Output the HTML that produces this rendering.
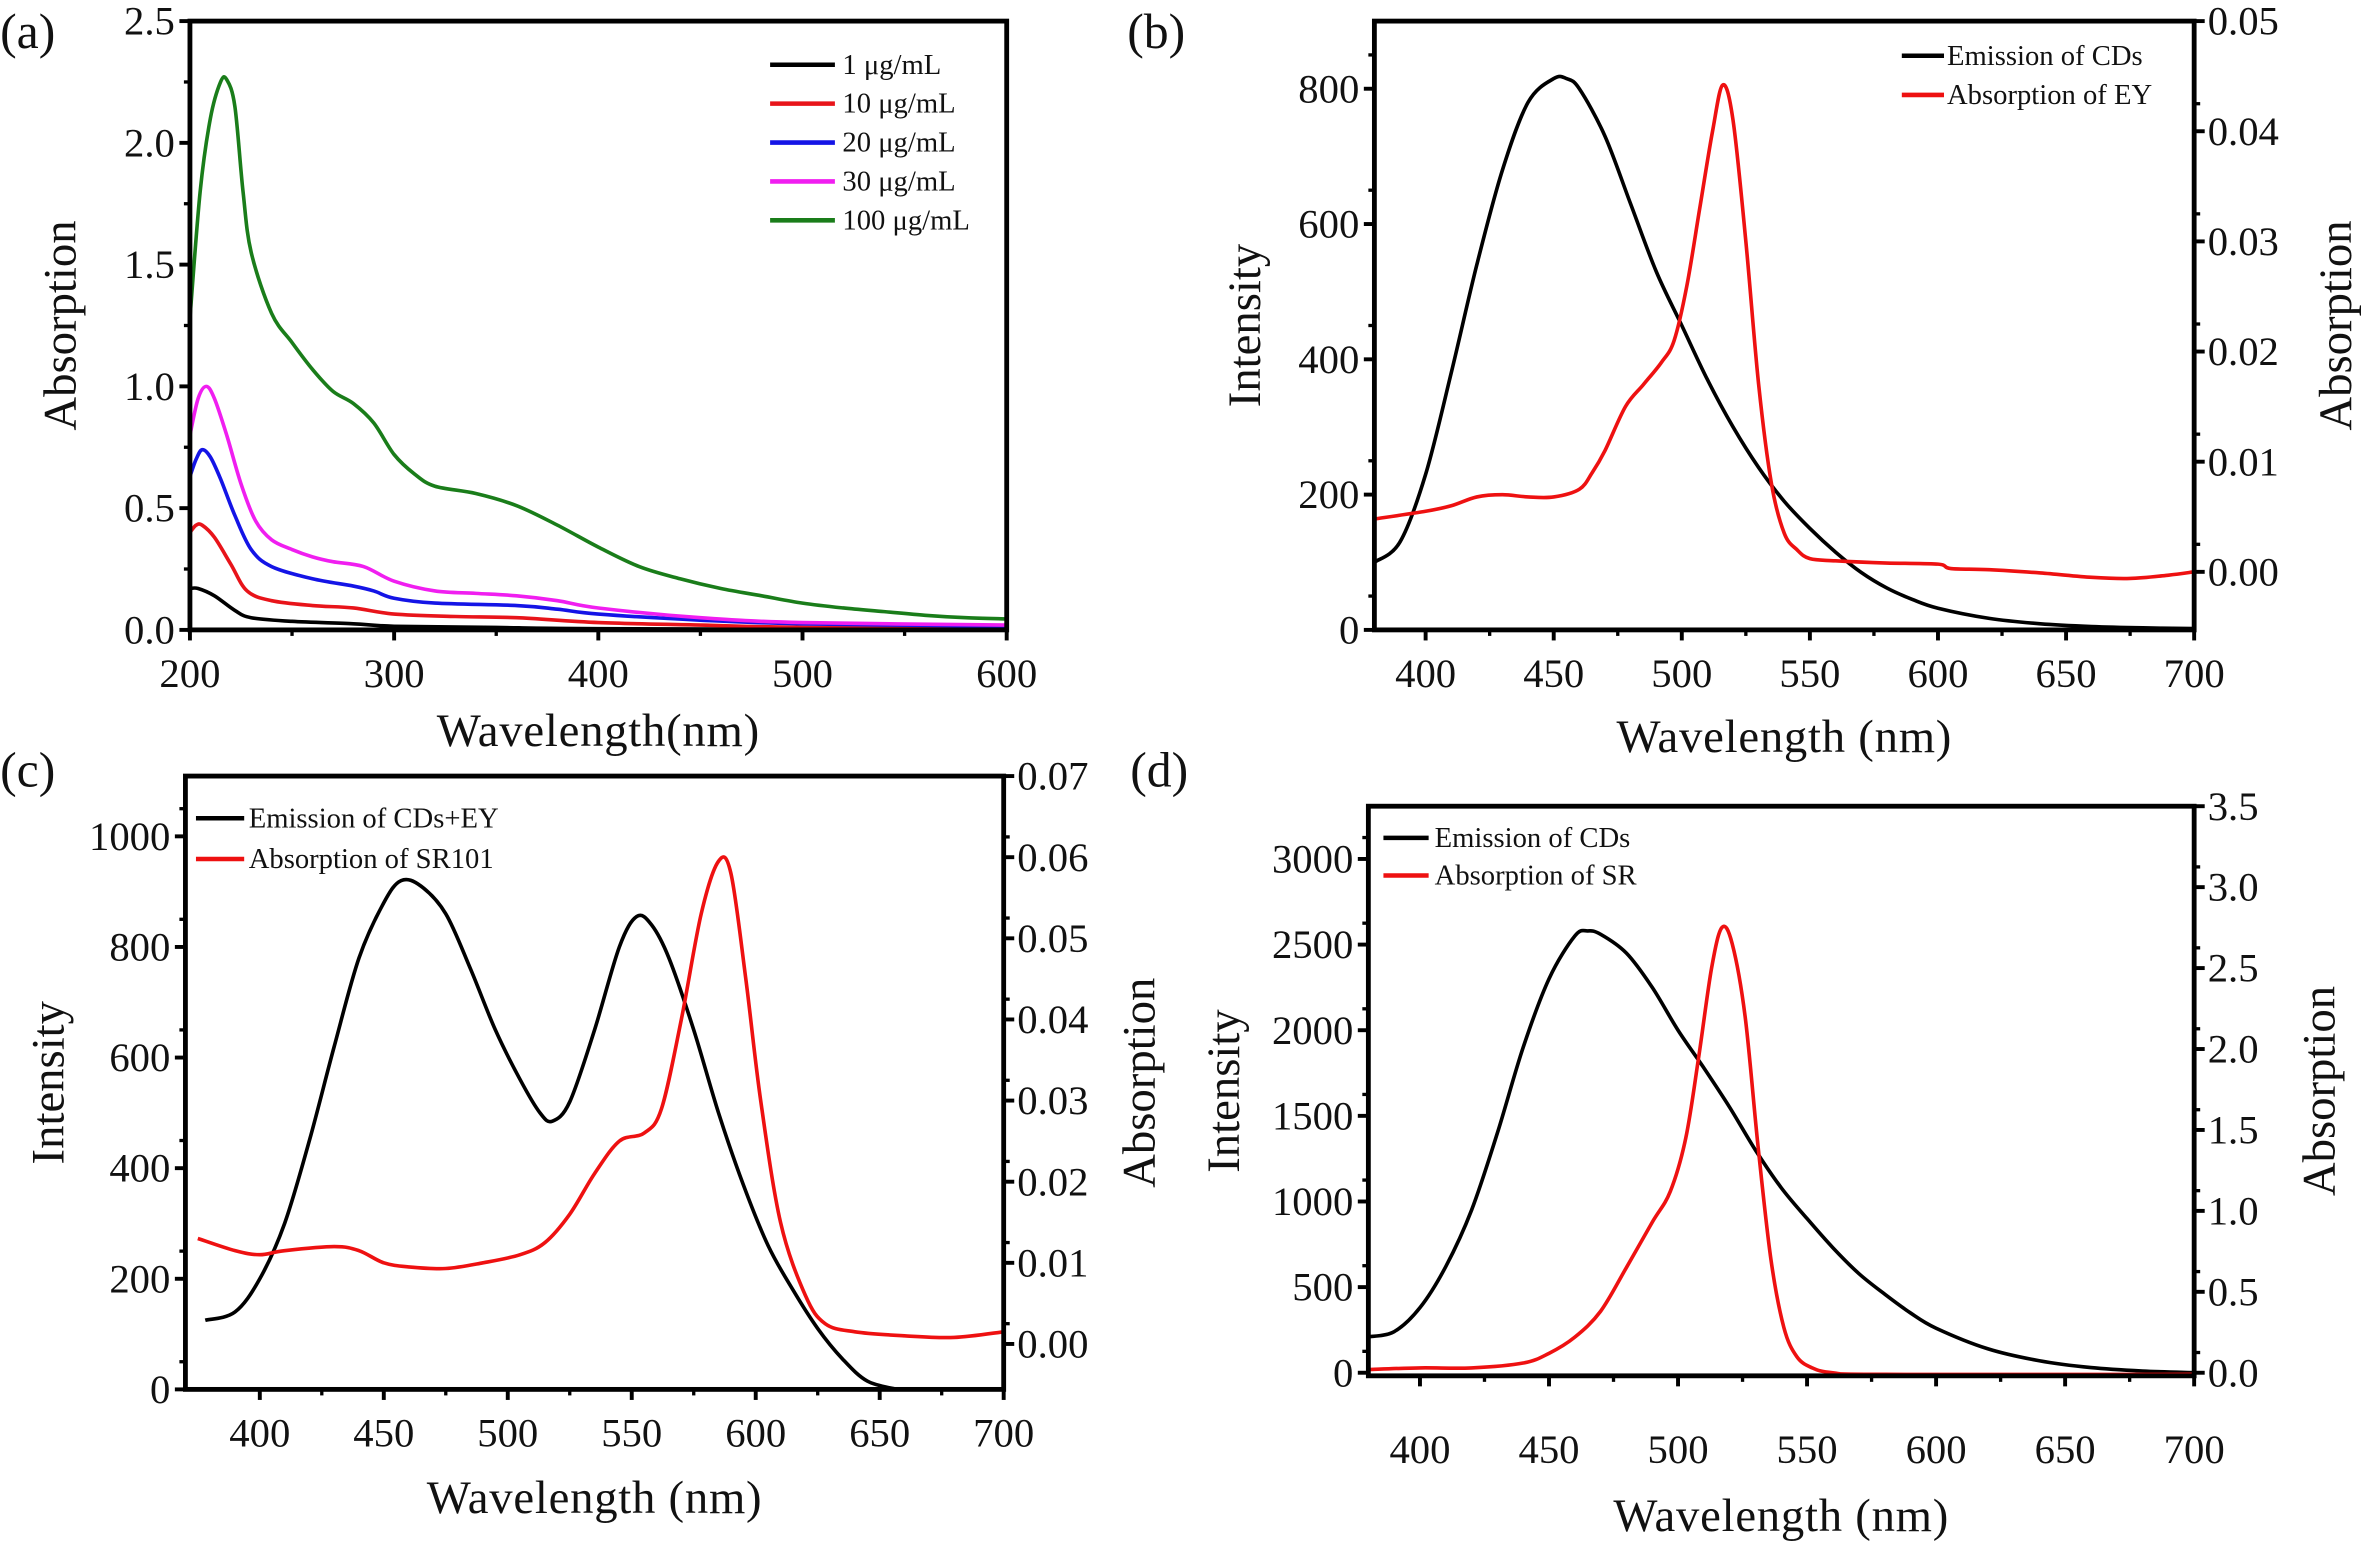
<!DOCTYPE html>
<html><head><meta charset="utf-8"><style>
html,body{margin:0;padding:0;background:#fff;}
svg{display:block;}
text{font-family:"Liberation Serif",serif;fill:#111;}
</style></head><body>
<svg id="fig" xmlns="http://www.w3.org/2000/svg" width="2363" height="1544" viewBox="0 0 1568 1024.6"></svg>
<script>
// ---------- Panel (a) data ----------
const aX_g=[200,205,210,215,218,222,226,230,240,250,260,270,280,290,300,310,320,340,360,380,400,420,440,460,480,500,520,540,560,580,600];
const aY_g=[1.28,1.8,2.1,2.25,2.26,2.15,1.8,1.55,1.3,1.18,1.07,0.98,0.93,0.85,0.72,0.64,0.59,0.56,0.51,0.43,0.34,0.26,0.21,0.17,0.14,0.11,0.09,0.075,0.06,0.05,0.045];
const aX_m=[200,204,208,212,218,225,232,240,250,260,270,285,300,320,340,360,380,400,450,500,600];
const aY_m=[0.8,0.95,1.0,0.95,0.8,0.6,0.45,0.37,0.33,0.3,0.28,0.26,0.2,0.16,0.15,0.14,0.12,0.09,0.05,0.03,0.02];
const aX_b=[200,203,206,210,215,222,230,240,260,280,290,300,320,360,380,400,450,500,600];
const aY_b=[0.63,0.7,0.74,0.71,0.62,0.47,0.33,0.26,0.21,0.18,0.16,0.13,0.11,0.1,0.085,0.065,0.04,0.025,0.015];
const aX_r=[200,203,206,212,220,228,240,260,280,300,330,360,400,450,500,600];
const aY_r=[0.4,0.43,0.43,0.38,0.27,0.16,0.12,0.1,0.09,0.065,0.055,0.05,0.03,0.02,0.01,0.005];
const aX_k=[200,204,212,222,230,250,280,300,350,400,600];
const aY_k=[0.17,0.17,0.14,0.08,0.05,0.035,0.025,0.015,0.01,0.005,0.0];
const aXticks=[200,300,400,500,600];
const aYticks=[0.0,0.5,1.0,1.5,2.0,2.5];
const aLegend=["1 μg/mL","10 μg/mL","20 μg/mL","30 μg/mL","100 μg/mL"];
// ---------- Panel (b) data ----------
const bX_em=[380,390,400,410,420,430,440,450,455,460,470,480,490,500,510,520,530,540,550,560,570,580,590,600,620,640,660,680,700];
const bY_em=[100,130,230,380,540,680,780,815,815,800,730,630,530,450,370,300,240,190,150,115,85,62,45,32,17,9,5,3,2];
const bX_ab=[380,400,410,420,430,440,450,460,465,470,478,485,492,497,502,507,512,516,520,525,530,535,540,545,550,560,580,600,605,620,640,660,675,690,700];
const bY_ab=[0.0048,0.0055,0.006,0.0068,0.007,0.0068,0.0068,0.0075,0.009,0.011,0.015,0.017,0.019,0.021,0.026,0.033,0.04,0.0442,0.041,0.03,0.017,0.008,0.0035,0.002,0.0012,0.001,0.0008,0.0007,0.0003,0.0002,-0.0001,-0.0005,-0.0006,-0.0003,0.0];
const bXticks=[400,450,500,550,600,650,700];
const bYticks=[0,200,400,600,800];
const bY2ticks=[0.00,0.01,0.02,0.03,0.04,0.05];
// ---------- Panel (c) data ----------
const cX_em=[378,390,400,410,420,430,440,450,457,465,475,485,495,505,513,518,525,535,545,552,558,565,575,585,595,605,615,625,635,645,657];
const cY_em=[125,140,200,300,450,620,780,880,920,910,860,760,650,560,500,485,520,650,800,855,840,780,650,500,370,260,180,110,55,15,0];
const cX_ab=[375,390,400,410,430,440,450,460,475,490,505,515,525,535,545,555,562,570,578,585,590,596,602,610,620,628,640,660,680,700];
const cY_ab=[0.013,0.0115,0.011,0.0115,0.012,0.0115,0.01,0.0095,0.0093,0.01,0.011,0.0125,0.016,0.021,0.025,0.026,0.029,0.04,0.053,0.0595,0.058,0.045,0.03,0.015,0.006,0.0025,0.0015,0.001,0.0008,0.0015];
const cXticks=[400,450,500,550,600,650,700];
const cYticks=[0,200,400,600,800,1000];
const cY2ticks=[0.00,0.01,0.02,0.03,0.04,0.05,0.06,0.07];
// ---------- Panel (d) data ----------
const dX_em=[380,390,400,410,420,430,440,450,460,465,470,480,490,500,510,520,530,540,550,560,570,580,590,600,620,640,660,680,700];
const dY_em=[210,240,380,620,950,1400,1900,2300,2550,2580,2560,2450,2250,2000,1780,1550,1300,1080,900,730,580,460,350,260,140,70,30,10,0];
const dX_ab=[380,400,420,440,450,460,470,480,490,497,503,508,513,517,521,526,531,536,541,546,552,560,580,700];
const dY_ab=[0.02,0.03,0.03,0.06,0.12,0.22,0.38,0.65,0.93,1.12,1.45,1.95,2.5,2.75,2.65,2.2,1.4,0.7,0.28,0.1,0.03,0.0,-0.01,-0.01];
const dXticks=[400,450,500,550,600,650,700];
const dYticks=[0,500,1000,1500,2000,2500,3000];
const dY2ticks=[0.0,0.5,1.0,1.5,2.0,2.5,3.0,3.5];

const NS="http://www.w3.org/2000/svg";
const svg=document.getElementById('fig');
function el(tag,attrs,parent,txt){const e=document.createElementNS(NS,tag);for(const k in attrs)e.setAttribute(k,attrs[k]);if(txt!==undefined)e.textContent=txt;(parent||svg).appendChild(e);return e;}
function lin(d0,d1,r0,r1){return v=>r0+(v-d0)/(d1-d0)*(r1-r0);}
function smoothPath(xs,ys,sx,sy){
  const p=xs.map((x,i)=>[sx(x),sy(ys[i])]);
  let d='M'+p[0][0].toFixed(2)+','+p[0][1].toFixed(2);
  for(let i=0;i<p.length-1;i++){
    const p0=p[i-1]||p[i],p1=p[i],p2=p[i+1],p3=p[i+2]||p2;
    const c1=[p1[0]+(p2[0]-p0[0])/6,p1[1]+(p2[1]-p0[1])/6];
    const c2=[p2[0]-(p3[0]-p1[0])/6,p2[1]-(p3[1]-p1[1])/6];
    d+=' C'+c1[0].toFixed(2)+','+c1[1].toFixed(2)+' '+c2[0].toFixed(2)+','+c2[1].toFixed(2)+' '+p2[0].toFixed(2)+','+p2[1].toFixed(2);
  }
  return d;
}
function fmt(v,dec){return v.toFixed(dec);}

function panel(cfg){
  const g=el('g',{});
  
  
  const sx=lin(cfg.xd[0],cfg.xd[1],cfg.L,cfg.R);
  const sy=lin(cfg.yd[0],cfg.yd[1],cfg.B,cfg.T);
  const sy2=cfg.y2d?lin(cfg.y2d[0],cfg.y2d[1],cfg.B,cfg.T):null;
  cfg.series.forEach(s=>{
    const p=el('path',{d:smoothPath(s.x,s.y,sx,s.right?sy2:sy),fill:'none',stroke:s.color,'stroke-width':2.4,'stroke-linejoin':'round'},g);
    
    
  });
  const fr=el('rect',{x:cfg.L,y:cfg.T,width:cfg.R-cfg.L,height:cfg.B-cfg.T,fill:'none',stroke:'#000','stroke-width':3.2},g);
  
  
  const xa=el('g',{},g);
  
  
  cfg.xt.forEach((v,i)=>{
    const x=sx(v);
    el('line',{x1:x,y1:cfg.B,x2:x,y2:cfg.B+7,stroke:'#000','stroke-width':2.6},xa);
    if(i<cfg.xt.length-1){const xm=sx(v+cfg.xstep/2);el('line',{x1:xm,y1:cfg.B,x2:xm,y2:cfg.B+4,stroke:'#000','stroke-width':2.2},xa);}
    const t=el('text',{x:x,y:cfg.B+cfg.xlabOff,'font-size':27,'text-anchor':'middle'},xa,String(v));
    
    
  });
  const xt=el('text',{x:(cfg.L+cfg.R)/2,y:cfg.xTitleY,'font-size':31,'text-anchor':'middle','letter-spacing':'0.5'},g,cfg.xTitle);
  
  
  const ya=el('g',{},g);
  
  
  cfg.yt.forEach((v,i)=>{
    const y=sy(v);
    el('line',{x1:cfg.L,y1:y,x2:cfg.L-7,y2:y,stroke:'#000','stroke-width':2.6},ya);
    const ym=sy(v+cfg.ystep/2);
    if(ym>cfg.T+2) el('line',{x1:cfg.L,y1:ym,x2:cfg.L-4,y2:ym,stroke:'#000','stroke-width':2.2},ya);
    const t=el('text',{x:cfg.L-10,y:y+9,'font-size':27,'text-anchor':'end'},ya,fmt(v,cfg.ydec));
    
    
  });
  const yt=el('text',{x:cfg.yTitleX,y:(cfg.T+cfg.B)/2,'font-size':31,'text-anchor':'middle',transform:`rotate(-90 ${cfg.yTitleX} ${(cfg.T+cfg.B)/2})`},g,cfg.yTitle);
  
  
  if(sy2){
    const y2=el('g',{},g);
    
    
    cfg.y2t.forEach((v,i)=>{
      const y=sy2(v);
      el('line',{x1:cfg.R,y1:y,x2:cfg.R+7,y2:y,stroke:'#000','stroke-width':2.6},y2);
      const ym=sy2(v+cfg.y2step/2);
      if(ym>cfg.T+2) el('line',{x1:cfg.R,y1:ym,x2:cfg.R+4,y2:ym,stroke:'#000','stroke-width':2.2},y2);
      const t=el('text',{x:cfg.R+9,y:y+9,'font-size':27,'text-anchor':'start'},y2,fmt(v,cfg.y2dec));
      
      
    });
    const t2=el('text',{x:cfg.y2TitleX,y:(cfg.T+cfg.B)/2,'font-size':31,'text-anchor':'middle',transform:`rotate(-90 ${cfg.y2TitleX} ${(cfg.T+cfg.B)/2})`},g,cfg.y2Title);
    
    
  }
  const lg=el('g',{},g);
  
  
  cfg.legend.items.forEach((it,i)=>{
    const y=cfg.legend.y+i*cfg.legend.dy;
    el('line',{x1:cfg.legend.x1,y1:y,x2:cfg.legend.x2,y2:y,stroke:it.color,'stroke-width':3},lg);
    const t=el('text',{x:cfg.legend.tx,y:y+6,'font-size':cfg.legend.fs},lg,it.label);
    
    
  });
  const pl=el('text',{x:cfg.tagX,y:cfg.tagY,'font-size':33},g,cfg.tag);
  
  
}

const aCols=['#000','#e8141a','#1414e6','#f01ef0','#1a7d1a'];
panel({name:'panel-a',L:126,R:668,T:14,B:418,xd:[200,600],yd:[0,2.5],xt:aXticks,xstep:100,yt:aYticks,ystep:0.5,ydec:1,
  xlabOff:38,xTitle:'Wavelength(nm)',xTitleY:495,yTitle:'Absorption',yTitleX:50,
  series:[{x:aX_k,y:aY_k,color:aCols[0],name:'series-1ugml'},{x:aX_r,y:aY_r,color:aCols[1],name:'series-10ugml'},{x:aX_b,y:aY_b,color:aCols[2],name:'series-20ugml'},{x:aX_m,y:aY_m,color:aCols[3],name:'series-30ugml'},{x:aX_g,y:aY_g,color:aCols[4],name:'series-100ugml'}],
  legend:{x1:511,x2:554,tx:559,y:43,dy:25.8,fs:19,items:aLegend.map((l,i)=>({label:l,color:aCols[i]}))},
  tag:'(a)',tagX:0,tagY:32});
panel({name:'panel-b',L:912,R:1456,T:14,B:418,xd:[380,700],yd:[0,900],y2d:[-0.00527,0.05],xt:bXticks,xstep:50,yt:bYticks,ystep:100,ydec:0,
  y2t:bY2ticks,y2step:0.005,y2dec:2,y2Title:'Absorption',y2TitleX:1560,
  xlabOff:38,xTitle:'Wavelength (nm)',xTitleY:499,yTitle:'Intensity',yTitleX:836,
  series:[{x:bX_em,y:bY_em,color:'#000',name:'emission-of-cds'},{x:bX_ab,y:bY_ab,color:'#ee1111',right:true,name:'absorption-of-ey'}],
  legend:{x1:1262,x2:1290,tx:1292,y:37,dy:26,fs:19,items:[{label:'Emission of CDs',color:'#000'},{label:'Absorption of EY',color:'#ee1111'}]},
  tag:'(b)',tagX:748,tagY:32});
panel({name:'panel-c',L:123,R:666,T:515,B:922,xd:[370,700],yd:[0,1109],y2d:[-0.0056,0.07],xt:cXticks,xstep:50,yt:cYticks,ystep:100,ydec:0,
  y2t:cY2ticks,y2step:0.005,y2dec:2,y2Title:'Absorption',y2TitleX:766,
  xlabOff:38,xTitle:'Wavelength (nm)',xTitleY:1004,yTitle:'Intensity',yTitleX:42,
  series:[{x:cX_em,y:cY_em,color:'#000',name:'emission-of-cds-ey'},{x:cX_ab,y:cY_ab,color:'#ee1111',right:true,name:'absorption-of-sr101'}],
  legend:{x1:130,x2:162,tx:165,y:543,dy:27,fs:19,items:[{label:'Emission of CDs+EY',color:'#000'},{label:'Absorption of SR101',color:'#ee1111'}]},
  tag:'(c)',tagX:0,tagY:522});
panel({name:'panel-d',L:908,R:1456,T:535,B:913,xd:[380,700],yd:[-18,3308],y2d:[-0.019,3.5],xt:dXticks,xstep:50,yt:dYticks,ystep:250,ydec:0,
  y2t:dY2ticks,y2step:0.25,y2dec:1,y2Title:'Absorption',y2TitleX:1549,
  xlabOff:58,xTitle:'Wavelength (nm)',xTitleY:1016,yTitle:'Intensity',yTitleX:822,
  series:[{x:dX_em,y:dY_em,color:'#000',name:'emission-of-cds'},{x:dX_ab,y:dY_ab,color:'#ee1111',right:true,name:'absorption-of-sr'}],
  legend:{x1:918,x2:948,tx:952,y:556,dy:25,fs:19,items:[{label:'Emission of CDs',color:'#000'},{label:'Absorption of SR',color:'#ee1111'}]},
  tag:'(d)',tagX:750,tagY:522});
</script>
</body></html>
